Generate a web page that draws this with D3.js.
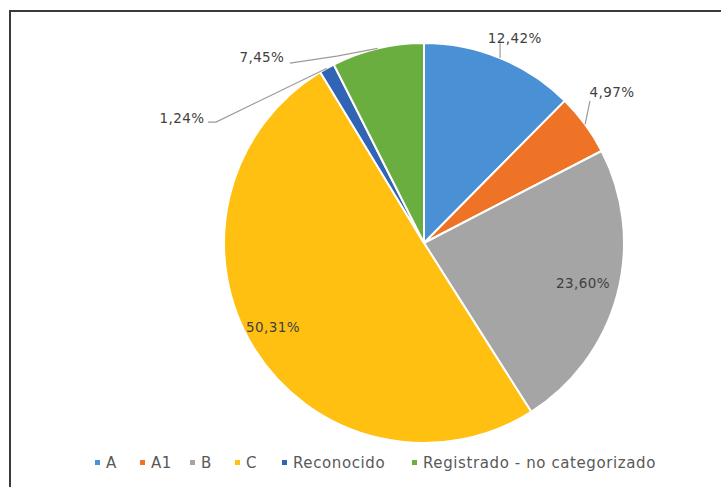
<!DOCTYPE html>
<html><head><meta charset="utf-8">
<script src="https://cdn.jsdelivr.net/npm/d3@7"></script>
<style>html,body{margin:0;padding:0;background:#fff;}svg{display:block;}</style>
</head><body>
<svg id="chart" width="721" height="487"></svg>
<script>
// ---- data ----
const categories = ["A", "A1", "B", "C", "Reconocido", "Registrado - no categorizado"];
const values = [12.42, 4.97, 23.60, 50.31, 1.24, 7.45];
const valueLabels = ["12,42%", "4,97%", "23,60%", "50,31%", "1,24%", "7,45%"];
const colors = ["#4A90D4", "#EE7326", "#A5A5A5", "#FFC012", "#3164B4", "#6AAE3F"];

// ---- layout (not data) ----
const W = 721, H = 487;
const cx = 424, cy = 243, R = 200;
// label placement: polar angle (deg from top, clockwise) and radius factor
const labelPlace = [
  {a: 23.9, k: 1.12},
  {a: 51.2, k: 1.206},
  {a: 104.1, k: 0.82},
  {a: 240.9, k: 0.864},
  {a: 297.3, k: 1.362},
  {a: 318.9, k: 1.233}
];
const legendX = [95, 140, 190, 235, 282, 412];
const legendY = 463;

const svg = d3.select("#chart");
svg.append("rect").attr("x", 10).attr("y", 11).attr("width", 760).attr("height", 520)
  .attr("fill", "#fff").attr("stroke", "#3a3a3a").attr("stroke-width", 2);

const pie = d3.pie().sort(null).value(d => d)(values);
const arc = d3.arc().innerRadius(0).outerRadius(R);
const g = svg.append("g").attr("transform", `translate(${cx},${cy})`);

g.selectAll("path.slice").data(pie).enter().append("path")
  .attr("class", "slice")
  .attr("d", arc)
  .attr("fill", (d, i) => colors[i])
  .attr("stroke", "#fff").attr("stroke-width", 2).attr("stroke-linejoin", "round");

const polar = (deg, r) => {
  const t = deg * Math.PI / 180;
  return [r * Math.sin(t), -r * Math.cos(t)];
};

const labelPos = labelPlace.map(p => polar(p.a, p.k * R));

// leader lines
const midDeg = d => ((d.startAngle + d.endAngle) / 2) * 180 / Math.PI;
const leaderColor = "#a09a96";
const leaders = [
  (d, i) => { const p = polar(midDeg(d), R); return [p, [p[0], labelPos[i][1] + 5]]; },
  (d, i) => { const p = polar(midDeg(d), R); return [p, [labelPos[i][0] - 22, labelPos[i][1] + 9]]; },
  null, null,
  (d, i) => { const p = polar(midDeg(d), R); return [p, [labelPos[i][0] + 34, labelPos[i][1] + 4], [labelPos[i][0] + 26, labelPos[i][1] + 4]]; },
  (d, i) => { const p = polar(midDeg(d), R); return [p, [labelPos[i][0] + 75, labelPos[i][1] - 1], [labelPos[i][0] + 28, labelPos[i][1] + 6]]; }
];
pie.forEach((d, i) => {
  if (!leaders[i]) return;
  g.append("path").attr("d", d3.line()(leaders[i](d, i)))
    .attr("fill", "none").attr("stroke", leaderColor).attr("stroke-width", 1.2);
});

g.selectAll("text.lbl").data(pie).enter().append("text")
  .attr("class", "lbl")
  .attr("x", (d, i) => labelPos[i][0])
  .attr("y", (d, i) => labelPos[i][1])
  .attr("dy", "0.35em")
  .attr("text-anchor", "middle")
  .attr("font-family", "'DejaVu Sans', sans-serif")
  .attr("font-size", 13.5)
  .attr("letter-spacing", 0.4)
  .attr("fill", "#404040")
  .text((d, i) => valueLabels[i]);

// legend
const lg = svg.append("g");
categories.forEach((c, i) => {
  lg.append("rect").attr("x", legendX[i]).attr("y", legendY - 3).attr("width", 5).attr("height", 5)
    .attr("fill", colors[i]);
  lg.append("text").attr("x", legendX[i] + 11).attr("y", legendY).attr("dy", "0.35em")
    .attr("font-family", "'DejaVu Sans', sans-serif").attr("font-size", 15)
    .attr("letter-spacing", 0.6)
    .attr("fill", "#595959").text(c);
});
</script>
</body></html>
